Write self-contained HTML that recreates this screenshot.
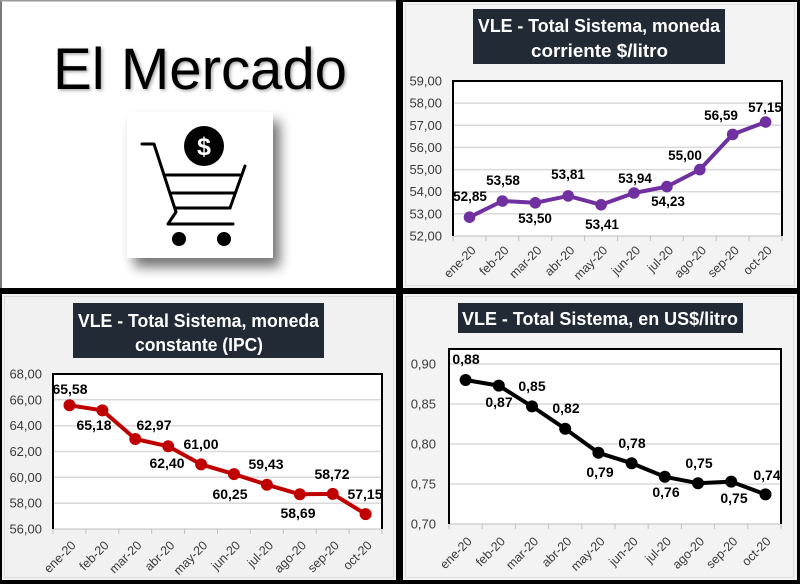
<!DOCTYPE html>
<html><head><meta charset="utf-8"><style>
html,body{margin:0;padding:0;background:#000;}
svg{display:block;}
text{font-family:"Liberation Sans",Arial,sans-serif;}
.yl{font-size:13px;fill:#3a3a3a;text-anchor:end;}
.xl{font-size:12.5px;fill:#3a3a3a;text-anchor:end;}
.dl{font-size:13.5px;font-weight:bold;fill:#000;text-anchor:middle;}
.dl2{font-size:14px;font-weight:bold;fill:#000;text-anchor:middle;}
.tt{font-size:18px;font-weight:bold;fill:#fff;text-anchor:middle;}
.grid{stroke:#d9d9d9;stroke-width:1.5;}
.tick{stroke:#bfbfbf;stroke-width:1;}
</style></head><body>
<svg width="800" height="584" viewBox="0 0 800 584" xmlns="http://www.w3.org/2000/svg">
<defs>
<filter id="sh" x="-20%" y="-20%" width="150%" height="150%">
<feGaussianBlur in="SourceAlpha" stdDeviation="6"/>
<feOffset dx="7" dy="9" result="o"/>
<feComponentTransfer><feFuncA type="linear" slope="0.55"/></feComponentTransfer>
<feMerge><feMergeNode/><feMergeNode in="SourceGraphic"/></feMerge>
</filter>
<filter id="tsh" x="-5%" y="-20%" width="110%" height="150%">
<feGaussianBlur in="SourceAlpha" stdDeviation="1.5"/>
<feOffset dx="1.5" dy="1.5"/>
<feComponentTransfer><feFuncA type="linear" slope="0.35"/></feComponentTransfer>
<feMerge><feMergeNode/><feMergeNode in="SourceGraphic"/></feMerge>
</filter>
</defs>
<rect x="0" y="0" width="800" height="584" fill="#000"/>

<!-- Top-left panel -->
<rect x="0" y="0" width="396" height="288" fill="#fff"/>
<rect x="0" y="0" width="2" height="288" fill="#7a7a7a"/>
<rect x="0" y="0" width="396" height="1.5" fill="#9a9a9a"/>
<text x="200" y="89" font-size="58" textLength="294" lengthAdjust="spacingAndGlyphs" text-anchor="middle" fill="#000" filter="url(#tsh)">El Mercado</text>
<rect x="127" y="112" width="146" height="146" fill="#fff" filter="url(#sh)"/>
<g fill="none" stroke="#000" stroke-width="3" stroke-linecap="round" stroke-linejoin="round">
<path d="M142,144 L154,144 L176,212 L168,224 L233,224"/>
<path d="M166,175 L240,175"/>
<path d="M245,166 L230,208"/>
<path d="M172,193 L235,193"/>
<path d="M176,208 L230,208"/>
</g>
<circle cx="179" cy="239" r="7" fill="#000"/>
<circle cx="224" cy="239" r="7" fill="#000"/>
<circle cx="204" cy="146" r="20" fill="#000"/>
<text x="204" y="155" font-size="25" font-weight="bold" fill="#fff" text-anchor="middle">$</text>

<!-- Top-right panel -->
<rect x="403" y="2" width="394" height="286" fill="#f3f3f3"/>
<rect x="405.5" y="4.5" width="389" height="281" fill="none" stroke="#dedede" stroke-width="1"/>
<rect x="473" y="9" width="252" height="55" fill="#222a35"/>
<text class="tt" x="599" y="32" textLength="242" lengthAdjust="spacingAndGlyphs">VLE - Total Sistema, moneda</text>
<text class="tt" x="599.5" y="57" textLength="137" lengthAdjust="spacingAndGlyphs">corriente $/litro</text>
<rect x="453" y="81" width="329" height="155" fill="#fff"/>
<g class="grid">
<line x1="453" y1="103.1" x2="782" y2="103.1"/><line x1="453" y1="125.3" x2="782" y2="125.3"/>
<line x1="453" y1="147.4" x2="782" y2="147.4"/><line x1="453" y1="169.6" x2="782" y2="169.6"/>
<line x1="453" y1="191.7" x2="782" y2="191.7"/><line x1="453" y1="213.9" x2="782" y2="213.9"/>
</g>
<line x1="453" y1="236" x2="782" y2="236" stroke="#bfbfbf" stroke-width="1"/>
<g class="tick">
<line x1="453" y1="236" x2="453" y2="241"/><line x1="485.9" y1="236" x2="485.9" y2="241"/><line x1="518.8" y1="236" x2="518.8" y2="241"/><line x1="551.7" y1="236" x2="551.7" y2="241"/><line x1="584.6" y1="236" x2="584.6" y2="241"/><line x1="617.5" y1="236" x2="617.5" y2="241"/><line x1="650.4" y1="236" x2="650.4" y2="241"/><line x1="683.3" y1="236" x2="683.3" y2="241"/><line x1="716.2" y1="236" x2="716.2" y2="241"/><line x1="749.1" y1="236" x2="749.1" y2="241"/><line x1="782" y1="236" x2="782" y2="241"/>
</g>
<path d="M453,236 L453,81 L782,81 L782,236" fill="none" stroke="#000" stroke-width="2"/>
<g>
<text class="yl" x="442" y="85.5">59,00</text><text class="yl" x="442" y="107.6">58,00</text><text class="yl" x="442" y="129.8">57,00</text><text class="yl" x="442" y="151.9">56,00</text><text class="yl" x="442" y="174.1">55,00</text><text class="yl" x="442" y="196.2">54,00</text><text class="yl" x="442" y="218.4">53,00</text><text class="yl" x="442" y="240.5">52,00</text>
</g>
<g>
<text class="xl" dy="0.35em" transform="translate(473.5,248) rotate(-45)">ene-20</text>
<text class="xl" dy="0.35em" transform="translate(506.4,248) rotate(-45)">feb-20</text>
<text class="xl" dy="0.35em" transform="translate(539.3,248) rotate(-45)">mar-20</text>
<text class="xl" dy="0.35em" transform="translate(572.2,248) rotate(-45)">abr-20</text>
<text class="xl" dy="0.35em" transform="translate(605.1,248) rotate(-45)">may-20</text>
<text class="xl" dy="0.35em" transform="translate(638,248) rotate(-45)">jun-20</text>
<text class="xl" dy="0.35em" transform="translate(670.9,248) rotate(-45)">jul-20</text>
<text class="xl" dy="0.35em" transform="translate(703.8,248) rotate(-45)">ago-20</text>
<text class="xl" dy="0.35em" transform="translate(736.7,248) rotate(-45)">sep-20</text>
<text class="xl" dy="0.35em" transform="translate(769.6,248) rotate(-45)">oct-20</text>
</g>
<polyline points="469.5,217.2 502.4,201 535.3,202.8 568.2,195.9 601.1,204.8 634,193 666.9,186.6 699.8,169.6 732.7,134.4 765.6,122" fill="none" stroke="#7030a0" stroke-width="4" stroke-linejoin="round"/>
<g fill="#7030a0">
<circle cx="469.5" cy="217.2" r="5.8"/><circle cx="502.4" cy="201" r="5.8"/><circle cx="535.3" cy="202.8" r="5.8"/><circle cx="568.2" cy="195.9" r="5.8"/><circle cx="601.1" cy="204.8" r="5.8"/><circle cx="634" cy="193" r="5.8"/><circle cx="666.9" cy="186.6" r="5.8"/><circle cx="699.8" cy="169.6" r="5.8"/><circle cx="732.7" cy="134.4" r="5.8"/><circle cx="765.6" cy="122" r="5.8"/>
</g>
<g>
<text class="dl" x="470" y="201">52,85</text>
<text class="dl" x="503" y="185">53,58</text>
<text class="dl" x="535" y="223">53,50</text>
<text class="dl" x="568" y="179">53,81</text>
<text class="dl" x="602" y="229">53,41</text>
<text class="dl" x="635" y="183">53,94</text>
<text class="dl" x="668" y="206">54,23</text>
<text class="dl" x="685" y="160">55,00</text>
<text class="dl" x="721" y="120">56,59</text>
<text class="dl" x="765" y="112">57,15</text>
</g>

<!-- Bottom-left panel -->
<rect x="2" y="294" width="394" height="286" fill="#f1f1f1"/>
<rect x="4.5" y="296.5" width="389" height="281" fill="none" stroke="#dcdcdc" stroke-width="1"/>
<rect x="73" y="303" width="251" height="55" fill="#222a35"/>
<text class="tt" x="198.5" y="327" textLength="241" lengthAdjust="spacingAndGlyphs">VLE - Total Sistema, moneda</text>
<text class="tt" x="199" y="351" textLength="128" lengthAdjust="spacingAndGlyphs">constante (IPC)</text>
<rect x="53" y="374" width="329" height="155" fill="#fff"/>
<g class="grid">
<line x1="53" y1="399.8" x2="382" y2="399.8"/><line x1="53" y1="425.7" x2="382" y2="425.7"/><line x1="53" y1="451.5" x2="382" y2="451.5"/><line x1="53" y1="477.3" x2="382" y2="477.3"/><line x1="53" y1="503.2" x2="382" y2="503.2"/>
</g>
<line x1="53" y1="529" x2="382" y2="529" stroke="#bfbfbf" stroke-width="1"/>
<g class="tick">
<line x1="53" y1="529" x2="53" y2="534"/><line x1="85.9" y1="529" x2="85.9" y2="534"/><line x1="118.8" y1="529" x2="118.8" y2="534"/><line x1="151.7" y1="529" x2="151.7" y2="534"/><line x1="184.6" y1="529" x2="184.6" y2="534"/><line x1="217.5" y1="529" x2="217.5" y2="534"/><line x1="250.4" y1="529" x2="250.4" y2="534"/><line x1="283.3" y1="529" x2="283.3" y2="534"/><line x1="316.2" y1="529" x2="316.2" y2="534"/><line x1="349.1" y1="529" x2="349.1" y2="534"/><line x1="382" y1="529" x2="382" y2="534"/>
</g>
<path d="M53,529 L53,374 L382,374 L382,529" fill="none" stroke="#000" stroke-width="2"/>
<g>
<text class="yl" x="42" y="378.5">68,00</text><text class="yl" x="42" y="404.3">66,00</text><text class="yl" x="42" y="430.2">64,00</text><text class="yl" x="42" y="456">62,00</text><text class="yl" x="42" y="481.8">60,00</text><text class="yl" x="42" y="507.7">58,00</text><text class="yl" x="42" y="533.5">56,00</text>
</g>
<g>
<text class="xl" dy="0.35em" transform="translate(73.5,543) rotate(-45)">ene-20</text>
<text class="xl" dy="0.35em" transform="translate(106.4,543) rotate(-45)">feb-20</text>
<text class="xl" dy="0.35em" transform="translate(139.3,543) rotate(-45)">mar-20</text>
<text class="xl" dy="0.35em" transform="translate(172.2,543) rotate(-45)">abr-20</text>
<text class="xl" dy="0.35em" transform="translate(205.1,543) rotate(-45)">may-20</text>
<text class="xl" dy="0.35em" transform="translate(238,543) rotate(-45)">jun-20</text>
<text class="xl" dy="0.35em" transform="translate(270.9,543) rotate(-45)">jul-20</text>
<text class="xl" dy="0.35em" transform="translate(303.8,543) rotate(-45)">ago-20</text>
<text class="xl" dy="0.35em" transform="translate(336.7,543) rotate(-45)">sep-20</text>
<text class="xl" dy="0.35em" transform="translate(369.6,543) rotate(-45)">oct-20</text>
</g>
<polyline points="69.5,405.3 102.4,410.4 135.3,439 168.2,446.3 201.1,464.4 234,474.1 266.9,484.7 299.8,494.3 332.7,493.9 365.6,514.1" fill="none" stroke="#c00000" stroke-width="4" stroke-linejoin="round"/>
<g fill="#c00000">
<circle cx="69.5" cy="405.3" r="6"/><circle cx="102.4" cy="410.4" r="6"/><circle cx="135.3" cy="439" r="6"/><circle cx="168.2" cy="446.3" r="6"/><circle cx="201.1" cy="464.4" r="6"/><circle cx="234" cy="474.1" r="6"/><circle cx="266.9" cy="484.7" r="6"/><circle cx="299.8" cy="494.3" r="6"/><circle cx="332.7" cy="493.9" r="6"/><circle cx="365.6" cy="514.1" r="6"/>
</g>
<g>
<text class="dl2" x="70" y="394">65,58</text>
<text class="dl2" x="94" y="430">65,18</text>
<text class="dl2" x="154" y="430">62,97</text>
<text class="dl2" x="167" y="468">62,40</text>
<text class="dl2" x="201" y="449">61,00</text>
<text class="dl2" x="230" y="499">60,25</text>
<text class="dl2" x="266" y="469">59,43</text>
<text class="dl2" x="298" y="518">58,69</text>
<text class="dl2" x="332" y="479">58,72</text>
<text class="dl2" x="365" y="499">57,15</text>
</g>

<!-- Bottom-right panel -->
<rect x="403" y="294" width="394" height="286" fill="#f3f3f3"/>
<rect x="405.5" y="296.5" width="388" height="281" fill="none" stroke="#dcdcdc" stroke-width="1"/>
<rect x="458" y="303" width="285" height="30" fill="#222a35"/>
<text class="tt" x="600" y="325" textLength="276" lengthAdjust="spacingAndGlyphs">VLE - Total Sistema, en US$/litro</text>
<rect x="449" y="349" width="332" height="175" fill="#fff"/>
<g class="grid">
<line x1="449" y1="364" x2="781" y2="364"/><line x1="449" y1="404" x2="781" y2="404"/><line x1="449" y1="444" x2="781" y2="444"/><line x1="449" y1="484" x2="781" y2="484"/>
</g>
<line x1="449" y1="524" x2="781" y2="524" stroke="#bfbfbf" stroke-width="1"/>
<g class="tick">
<line x1="449" y1="524" x2="449" y2="529"/><line x1="482.2" y1="524" x2="482.2" y2="529"/><line x1="515.4" y1="524" x2="515.4" y2="529"/><line x1="548.6" y1="524" x2="548.6" y2="529"/><line x1="581.8" y1="524" x2="581.8" y2="529"/><line x1="615" y1="524" x2="615" y2="529"/><line x1="648.2" y1="524" x2="648.2" y2="529"/><line x1="681.4" y1="524" x2="681.4" y2="529"/><line x1="714.6" y1="524" x2="714.6" y2="529"/><line x1="747.8" y1="524" x2="747.8" y2="529"/><line x1="781" y1="524" x2="781" y2="529"/>
</g>
<path d="M449,524 L449,349 L781,349 L781,524" fill="none" stroke="#000" stroke-width="2"/>
<g>
<text class="yl" x="436" y="368.5">0,90</text><text class="yl" x="436" y="408.5">0,85</text><text class="yl" x="436" y="448.5">0,80</text><text class="yl" x="436" y="488.5">0,75</text><text class="yl" x="436" y="528.5">0,70</text>
</g>
<g>
<text class="xl" dy="0.35em" transform="translate(469.6,539) rotate(-45)">ene-20</text>
<text class="xl" dy="0.35em" transform="translate(502.8,539) rotate(-45)">feb-20</text>
<text class="xl" dy="0.35em" transform="translate(536,539) rotate(-45)">mar-20</text>
<text class="xl" dy="0.35em" transform="translate(569.2,539) rotate(-45)">abr-20</text>
<text class="xl" dy="0.35em" transform="translate(602.4,539) rotate(-45)">may-20</text>
<text class="xl" dy="0.35em" transform="translate(635.6,539) rotate(-45)">jun-20</text>
<text class="xl" dy="0.35em" transform="translate(668.8,539) rotate(-45)">jul-20</text>
<text class="xl" dy="0.35em" transform="translate(702,539) rotate(-45)">ago-20</text>
<text class="xl" dy="0.35em" transform="translate(735.2,539) rotate(-45)">sep-20</text>
<text class="xl" dy="0.35em" transform="translate(768.4,539) rotate(-45)">oct-20</text>
</g>
<polyline points="465.6,380 498.8,385.6 532,406.4 565.2,428.8 598.4,452.8 631.6,463.2 664.8,476.8 698,483.2 731.2,481.6 765.5,494.4" fill="none" stroke="#000" stroke-width="4" stroke-linejoin="round"/>
<g fill="#000">
<circle cx="465.6" cy="380" r="6"/><circle cx="498.8" cy="385.6" r="6"/><circle cx="532" cy="406.4" r="6"/><circle cx="565.2" cy="428.8" r="6"/><circle cx="598.4" cy="452.8" r="6"/><circle cx="631.6" cy="463.2" r="6"/><circle cx="664.8" cy="476.8" r="6"/><circle cx="698" cy="483.2" r="6"/><circle cx="731.2" cy="481.6" r="6"/><circle cx="765.5" cy="494.4" r="6"/>
</g>
<g>
<text class="dl2" x="466" y="364">0,88</text>
<text class="dl2" x="499" y="407">0,87</text>
<text class="dl2" x="532" y="391">0,85</text>
<text class="dl2" x="566" y="413">0,82</text>
<text class="dl2" x="600" y="477">0,79</text>
<text class="dl2" x="632" y="448">0,78</text>
<text class="dl2" x="666" y="497">0,76</text>
<text class="dl2" x="699" y="468">0,75</text>
<text class="dl2" x="734" y="503">0,75</text>
<text class="dl2" x="767" y="480">0,74</text>
</g>
</svg>
</body></html>
